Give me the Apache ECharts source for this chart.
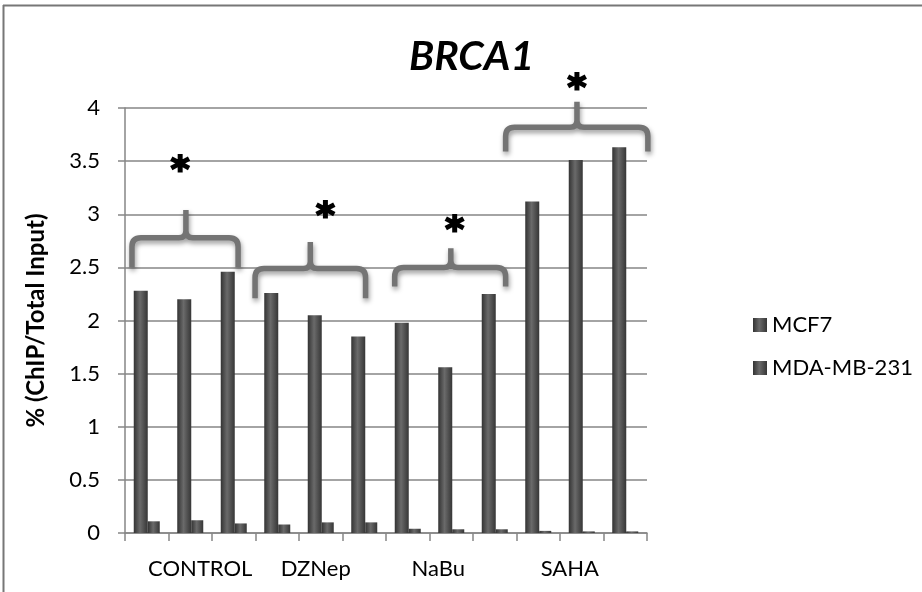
<!DOCTYPE html>
<html>
<head>
<meta charset="utf-8">
<script src="https://cdn.jsdelivr.net/npm/echarts@6/dist/echarts.min.js"></script>
<style>
html,body{margin:0;padding:0;background:#fff;}
#chart{width:922px;height:592px;}
</style>
</head>
<body>
<div id="chart"></div>
<script>
// ---- data ----
const categories = ['CONTROL-1','CONTROL-2','CONTROL-3','DZNep-1','DZNep-2','DZNep-3','NaBu-1','NaBu-2','NaBu-3','SAHA-1','SAHA-2','SAHA-3'];
const xLabels = ['', 'CONTROL', '', '', 'DZNep', '', '', 'NaBu', '', '', 'SAHA', ''];
const mcf7 = [2.28, 2.20, 2.46, 2.26, 2.05, 1.85, 1.98, 1.56, 2.25, 3.12, 3.51, 3.63];
const mda231 = [0.11, 0.12, 0.09, 0.08, 0.10, 0.10, 0.04, 0.035, 0.035, 0.02, 0.015, 0.015];
const yTicks = [0, 0.5, 1, 1.5, 2, 2.5, 3, 3.5, 4];
// significance braces: [leftX, rightX, midX, bandY, tipY, peakY, starX, starY] (category units / % units)
const braces = [
  [0.16, 2.60, 1.40, 2.78, 2.50, 3.04, 1.27, 3.40],
  [2.99, 5.53, 4.26, 2.49, 2.21, 2.74, 4.61, 2.97],
  [6.20, 8.75, 7.49, 2.50, 2.32, 2.68, 7.58, 2.84],
  [8.75, 12.02, 10.39, 3.82, 3.59, 4.06, 10.39, 4.17]
];

// ---- styles ----
const FONT = 'Lato';
const labelShift = {1: [0,0,0,20], 4: [0,10,0,0], 7: [0,26,0,0], 10: [0,24,0,0]};
const rich = {};
Object.keys(labelShift).forEach(k => { rich['s' + k] = {padding: labelShift[k], fontSize: 22, fontFamily: FONT, color: '#000'}; });
const barGrad = new echarts.graphic.LinearGradient(0, 0, 1, 0, [
  {offset: 0, color: '#333333'}, {offset: 0.45, color: '#6a6a6a'}, {offset: 1, color: '#363636'}
]);
const axisGray = '#868686';

const chart = echarts.init(document.getElementById('chart'), null, {renderer: 'canvas'});
chart.setOption({
  animation: false,
  backgroundColor: '#fff',
  title: {
    text: 'BRCA1', left: 404, top: 31,
    textStyle: {fontFamily: FONT, fontSize: 41, fontWeight: 'bold', fontStyle: 'italic', color: '#000'}
  },
  legend: {
    orient: 'vertical', left: 748, top: 309, itemWidth: 14, itemHeight: 14, itemGap: 21,
    icon: 'rect',
    data: ['MCF7', 'MDA-MB-231'],
    textStyle: {fontFamily: FONT, fontSize: 22, color: '#000'}
  },
  grid: {left: 125, top: 108, width: 522, height: 425, containLabel: false},
  xAxis: [{
    type: 'category', data: categories,
    axisLine: {lineStyle: {color: axisGray, width: 1.5}},
    axisTick: {show: true, interval: 0, length: 8, lineStyle: {color: axisGray, width: 1.5}},
    axisLabel: {
      interval: 0, margin: 25, fontFamily: FONT, fontSize: 22, color: '#000',
      formatter: (v, i) => xLabels[i] ? '{s' + i + '|' + xLabels[i] + '}' : '',
      rich: rich
    },
    splitLine: {show: false}
  }, {
    type: 'value', min: 0, max: 12, show: false, gridIndex: 0
  }],
  yAxis: {
    type: 'value', min: yTicks[0], max: yTicks[yTicks.length - 1], interval: 0.5,
    name: '% (ChIP/Total Input)', nameLocation: 'middle', nameGap: 77,
    nameTextStyle: {fontFamily: FONT, fontSize: 24, fontWeight: 'bold', color: '#000'},
    axisLine: {show: true, lineStyle: {color: axisGray, width: 1.5}},
    axisTick: {show: true, length: 7, lineStyle: {color: axisGray, width: 1.5}},
    axisLabel: {margin: 25, fontFamily: FONT, fontSize: 22, color: '#000',
      formatter: v => String(v)},
    splitLine: {show: true, lineStyle: {color: axisGray, width: 1.5}}
  },
  graphic: [
    {type: 'line', shape: {x1: 3.5, y1: 5, x2: 3.5, y2: 592}, style: {stroke: '#777', lineWidth: 2}},
    {type: 'line', shape: {x1: 3, y1: 5.5, x2: 922, y2: 5.5}, style: {stroke: '#777', lineWidth: 2}}
  ],
  series: [
    {name: 'MCF7', type: 'bar', data: mcf7, barWidth: 14, barGap: '0%',
     itemStyle: {color: barGrad}},
    {name: 'MDA-MB-231', type: 'bar', data: mda231, barWidth: 12,
     itemStyle: {color: barGrad}},
    {
      type: 'custom', xAxisIndex: 1, yAxisIndex: 0, silent: true, clip: false, z: 5,
      data: braces,
      encode: {x: 0, y: 3},
      renderItem: function (params, api) {
        const L = api.value(0), R = api.value(1), M = api.value(2);
        const B = api.value(3), T = api.value(4), P = api.value(5);
        const pLT = api.coord([L, T]), pLB = api.coord([L, B]);
        const pRT = api.coord([R, T]), pRB = api.coord([R, B]);
        const pMB = api.coord([M, B]), pMP = api.coord([M, P]);
        const star = api.coord([api.value(6), api.value(7)]);
        const r = 9, rm = 7;
        const y = pLB[1];
        const d = [
          'M', pLT[0], pLT[1], 'L', pLB[0], y + r, 'Q', pLB[0], y, pLB[0] + r, y,
          'L', pMB[0] - rm, y, 'Q', pMB[0], y, pMB[0], y - rm, 'L', pMP[0], pMP[1],
          'M', pMB[0], y - rm, 'Q', pMB[0], y, pMB[0] + rm, y,
          'L', pRB[0] - r, y, 'Q', pRB[0], y, pRB[0], y + r, 'L', pRT[0], pRT[1]
        ].join(' ');
        return {
          type: 'group',
          children: [{
            type: 'path', shape: {pathData: d},
            style: {fill: null, stroke: '#747474', lineWidth: 5.5, lineJoin: 'round',
              shadowBlur: 5, shadowColor: 'rgba(0,0,0,0.4)', shadowOffsetX: 1, shadowOffsetY: 3}
          }, {
            type: 'text',
            style: {text: '*', x: star[0], y: star[1], align: 'center', verticalAlign: 'middle',
              font: 'bold 36px "DejaVu Sans"', fill: '#000', stroke: '#000', lineWidth: 2}
          }]
        };
      }
    }
  ]
});
</script>
</body>
</html>
